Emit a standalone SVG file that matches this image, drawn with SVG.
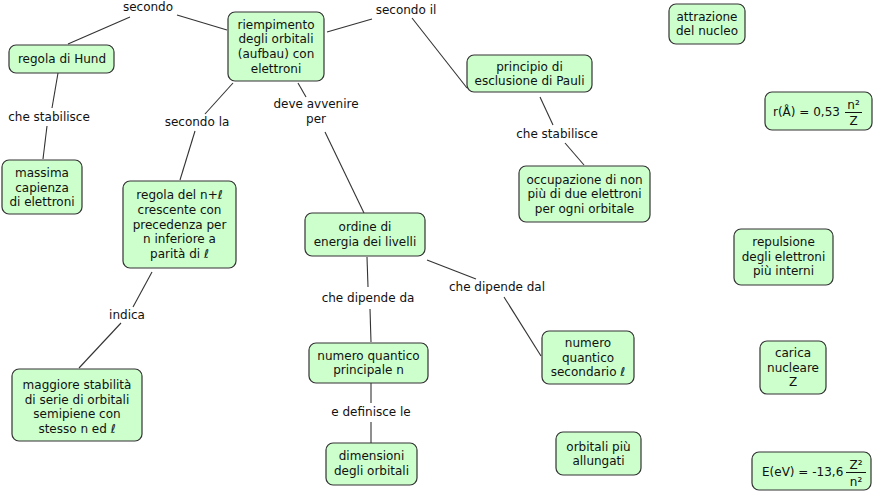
<svg xmlns="http://www.w3.org/2000/svg" width="876" height="495" viewBox="0 0 876 495">
<style>
.n rect{fill:#ccffcc;stroke:#333;stroke-width:1.2}
text{font-family:"DejaVu Sans","Verdana",sans-serif;font-size:12px;fill:#111;text-anchor:middle}
.c line{stroke:#333;stroke-width:1.1}
.s{text-anchor:start}
</style>
<rect width="876" height="495" fill="#fff"/>
<g class="c" id="connectors">
<line x1="227" y1="30" x2="177" y2="15"/>
<line x1="130" y1="17" x2="68" y2="44"/>
<line x1="327" y1="32" x2="372" y2="19"/>
<line x1="412" y1="18" x2="467" y2="88"/>
<line x1="58" y1="73" x2="52" y2="108"/>
<line x1="47" y1="126" x2="43" y2="159"/>
<line x1="233" y1="83" x2="205" y2="114"/>
<line x1="195" y1="131" x2="180" y2="180"/>
<line x1="298" y1="83" x2="306" y2="97"/>
<line x1="325" y1="132" x2="364" y2="213"/>
<line x1="152" y1="272" x2="133" y2="307"/>
<line x1="121" y1="323" x2="79" y2="368"/>
<line x1="540" y1="97" x2="553" y2="125"/>
<line x1="565" y1="143" x2="584" y2="165"/>
<line x1="367" y1="257" x2="368" y2="287"/>
<line x1="370" y1="309" x2="371" y2="342"/>
<line x1="427" y1="260" x2="476" y2="279"/>
<line x1="504" y1="297" x2="541" y2="356"/>
<line x1="371" y1="383" x2="371" y2="403"/>
<line x1="371" y1="422" x2="371" y2="443"/>
<text x="148" y="11">secondo</text>
<text x="406" y="14">secondo il</text>
<text x="49" y="121">che stabilisce</text>
<text x="197" y="126">secondo la</text>
<text x="316" y="108">deve avvenire</text>
<text x="316" y="123">per</text>
<text x="127" y="319">indica</text>
<text x="557" y="138">che stabilisce</text>
<text x="368" y="302">che dipende da</text>
<text x="497" y="291">che dipende dal</text>
<text x="371" y="416">e definisce le</text>
</g>
<g class="n" id="riempimento"><rect x="228" y="12" width="96" height="69" rx="7"/>
<text x="276" y="28.5">riempimento</text><text x="276" y="43.2">degli orbitali</text><text x="276" y="57.9">(aufbau) con</text><text x="276" y="72.6">elettroni</text></g>
<g class="n" id="hund"><rect x="9" y="45" width="105" height="28" rx="7"/><text x="62" y="63">regola di Hund</text></g>
<g class="n" id="massima"><rect x="2" y="160" width="80" height="54" rx="7"/>
<text x="42" y="177">massima</text><text x="42" y="191.7">capienza</text><text x="42" y="206.4">di elettroni</text></g>
<g class="n" id="nl"><rect x="123" y="181" width="113" height="87" rx="7"/>
<text x="179.5" y="199">regola del n+ℓ</text><text x="179.5" y="213.8">crescente con</text><text x="179.5" y="228.6">precedenza per</text><text x="179.5" y="243.4">n inferiore a</text><text x="179.5" y="258.2">parità di ℓ</text></g>
<g class="n" id="maggiore"><rect x="12" y="369" width="130" height="72" rx="7"/>
<text x="77" y="389">maggiore stabilità</text><text x="77" y="403.7">di serie di orbitali</text><text x="77" y="418.4">semipiene con</text><text x="77" y="433.1">stesso n ed ℓ</text></g>
<g class="n" id="pauli"><rect x="467" y="55" width="125" height="37" rx="7"/>
<text x="529.5" y="70.5">principio di</text><text x="529.5" y="85.2">esclusione di Pauli</text></g>
<g class="n" id="occupazione"><rect x="519" y="166" width="131" height="56" rx="7"/>
<text x="584.5" y="183.5">occupazione di non</text><text x="584.5" y="198.2">più di due elettroni</text><text x="584.5" y="212.9">per ogni orbitale</text></g>
<g class="n" id="ordine"><rect x="305" y="213" width="120" height="43" rx="7"/>
<text x="365" y="231">ordine di</text><text x="365" y="245.7">energia dei livelli</text></g>
<g class="n" id="principale"><rect x="309" y="343" width="119" height="40" rx="7"/>
<text x="368.5" y="359.5">numero quantico</text><text x="368.5" y="374.2">principale n</text></g>
<g class="n" id="dimensioni"><rect x="326" y="443" width="91" height="42" rx="7"/>
<text x="371.5" y="460">dimensioni</text><text x="371.5" y="474.7">degli orbitali</text></g>
<g class="n" id="secondario"><rect x="542" y="331" width="92" height="53" rx="7"/>
<text x="588" y="347">numero</text><text x="588" y="361.7">quantico</text><text x="588" y="376.4">secondario ℓ</text></g>
<g class="n" id="allungati"><rect x="556" y="432" width="85" height="43" rx="7"/>
<text x="598.5" y="450.5">orbitali più</text><text x="598.5" y="465.2">allungati</text></g>
<g class="n" id="attrazione"><rect x="669" y="4" width="76" height="40" rx="7"/>
<text x="707" y="20.5">attrazione</text><text x="707" y="35.2">del nucleo</text></g>
<g class="n" id="raggio"><rect x="765" y="92" width="107" height="38" rx="7"/>
<text class="s" x="773" y="116">r(Å) = 0,53</text><text x="853.5" y="109">n²</text>
<line x1="845" y1="112.5" x2="862" y2="112.5" stroke="#111" stroke-width="1"/><text x="853.5" y="124.5">Z</text></g>
<g class="n" id="repulsione"><rect x="734" y="229" width="99" height="56" rx="7"/>
<text x="783.5" y="246">repulsione</text><text x="783.5" y="260.7">degli elettroni</text><text x="783.5" y="275.4">più interni</text></g>
<g class="n" id="carica"><rect x="760" y="341" width="66" height="53" rx="7"/>
<text x="793" y="357">carica</text><text x="793" y="371.7">nucleare</text><text x="793" y="386.4">Z</text></g>
<g class="n" id="energia"><rect x="752" y="452" width="119" height="38" rx="7"/>
<text class="s" x="762" y="476">E(eV) = -13,6</text><text x="856" y="468.5">Z²</text>
<line x1="846" y1="472.5" x2="866" y2="472.5" stroke="#111" stroke-width="1"/><text x="856" y="485.5">n²</text></g>
</svg>
